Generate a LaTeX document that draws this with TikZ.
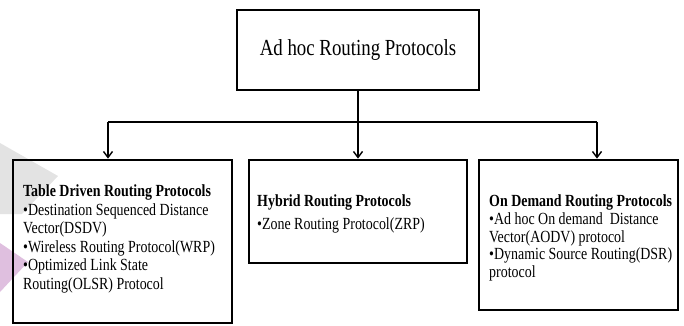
\documentclass[tikz,border=0pt]{standalone}
\usepackage{fontspec}
\setmainfont{Liberation Serif}[FakeStretch=0.82]
\usetikzlibrary{arrows.meta}
\begin{document}
\begin{tikzpicture}[x=1pt,y=-1pt,
  boxstyle/.style={draw, line width=2.8pt, inner sep=0pt},
  conn/.style={line width=1.6pt},
  arr/.style={conn, -{Straight Barb[length=6pt,width=9pt,line width=1.4pt]}},
  txt/.style={inner sep=0pt, anchor=north west, align=left},
  body/.style={font=\fontsize{17}{#1}\selectfont}]
\useasboundingbox (0,0) rectangle (684,325);
% watermark shapes
\fill[gray!22] (0,143) -- (58,176) -- (22,214) -- (0,214) -- cycle;
\fill[violet!25] (0,243) -- (28,262) -- (0,292) -- cycle;
% boxes
\node[boxstyle, minimum width=242pt, minimum height=80pt] (top) at (358,50) {};
\node[boxstyle, minimum width=219pt, minimum height=163pt] (left) at (122.5,241.5) {};
\node[boxstyle, minimum width=218pt, minimum height=103pt] (mid) at (358,211.5) {};
\node[boxstyle, minimum width=199pt, minimum height=150pt] (right) at (578.5,235) {};
% texts
\node[font=\fontsize{23}{27}\selectfont] (toptxt) at (top.center) {Ad hoc Routing Protocols};
\node[txt, body=18.6] (lefttxt) at (23,184.5) {\textbf{Table Driven Routing Protocols}\\
•Destination Sequenced Distance\\
Vector(DSDV)\\
•Wireless Routing Protocol(WRP)\\
•Optimized Link State\\
Routing(OLSR) Protocol};
\node[txt, body=23] (midtxt) at (257,194.5) {\textbf{Hybrid Routing Protocols}\\
•Zone Routing Protocol(ZRP)};
\node[txt, body=17.8] (righttxt) at (489,194.5) {\textbf{On Demand Routing Protocols}\\
•Ad hoc On demand\ \ Distance\\
Vector(AODV) protocol\\
•Dynamic Source Routing(DSR)\\
protocol};
% connectors
\coordinate (j) at (top.south |- 0,122);
\coordinate (jl) at (108,122);
\coordinate (jr) at (597,122);
\draw[conn] (top.south) -- (j);
\draw[conn] (jl) -- (jr);
\draw[arr] (jl) -- (jl |- left.north);
\draw[arr] (j) -- (mid.north);
\draw[arr] (jr) -- (jr |- right.north);
\end{tikzpicture}
\end{document}
